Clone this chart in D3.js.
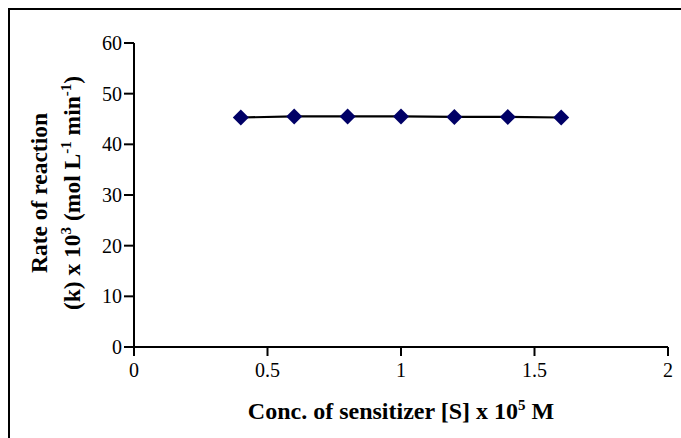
<!DOCTYPE html>
<html><head><meta charset="utf-8">
<script src="https://cdn.jsdelivr.net/npm/d3@7"></script>
<style>body{margin:0;background:#fff}svg{display:block}text{font-family:"Liberation Serif","Times New Roman",serif}</style>
</head><body><svg id="c" width="681" height="438"></svg>
<script>
const xValues = [0.4, 0.6, 0.8, 1.0, 1.2, 1.4, 1.6];
const yValues = [45.3, 45.5, 45.5, 45.5, 45.4, 45.4, 45.3];
const xTicks = [0, 0.5, 1, 1.5, 2];
const yTicks = [0, 10, 20, 30, 40, 50, 60];

const svg = d3.select("#c");
svg.append("rect").attr("x",9).attr("y",9).attr("width",700).attr("height",460)
  .attr("fill","none").attr("stroke","#000").attr("stroke-width",2);

const x = d3.scaleLinear().domain([0,2]).range([134,668]);
const y = d3.scaleLinear().domain([0,60]).range([347,43]);

// x axis
const gx = svg.append("g").attr("transform","translate(0,347)");
gx.append("line").attr("x1",124).attr("x2",668).attr("stroke","#000").attr("stroke-width",2);
gx.selectAll("line.t").data(xTicks).enter().append("line").attr("class","t")
  .attr("x1",d=>x(d)).attr("x2",d=>x(d)).attr("y1",0).attr("y2",9).attr("stroke","#000").attr("stroke-width",2);
gx.selectAll("text").data(xTicks).enter().append("text")
  .attr("x",d=>x(d)).attr("y",30).attr("text-anchor","middle").attr("font-size",20).text(d=>d);

// y axis
const gy = svg.append("g").attr("transform","translate(134,0)");
gy.append("line").attr("y1",y(60)).attr("y2",y(0)+9).attr("stroke","#000").attr("stroke-width",2);
gy.selectAll("line.t").data(yTicks).enter().append("line").attr("class","t")
  .attr("x1",-10).attr("x2",0).attr("y1",d=>y(d)).attr("y2",d=>y(d)).attr("stroke","#000").attr("stroke-width",2);
gy.selectAll("text").data(yTicks).enter().append("text")
  .attr("x",-12).attr("y",d=>y(d)+7).attr("text-anchor","end").attr("font-size",20).text(d=>d);

// line
const line = d3.line().x((d,i)=>x(xValues[i])).y(d=>y(d));
svg.append("path").datum(yValues).attr("d",line).attr("fill","none").attr("stroke","#000").attr("stroke-width",2.2);
svg.selectAll("path.m").data(yValues).enter().append("path").attr("class","m")
  .attr("transform",(d,i)=>`translate(${x(xValues[i])},${y(d)}) rotate(45)`)
  .attr("d",d3.symbol().type(d3.symbolSquare).size(128)).attr("fill","#000066");

// titles
const xt = svg.append("text").attr("x",401).attr("y",419).attr("text-anchor","middle")
  .attr("font-size",24).attr("font-weight","bold");
xt.append("tspan").text("Conc. of sensitizer [S] x 10");
xt.append("tspan").attr("dy",-9).attr("font-size",15).text("5");
xt.append("tspan").attr("dy",9).text(" M");

const yt = svg.append("g").attr("transform","translate(0,193) rotate(-90)");
yt.append("text").attr("x",0).attr("y",47).attr("text-anchor","middle")
  .attr("font-size",23.5).attr("font-weight","bold").text("Rate of reaction");
const t2 = yt.append("text").attr("x",0).attr("y",80).attr("text-anchor","middle")
  .attr("font-size",23.5).attr("font-weight","bold");
t2.append("tspan").text("(k) x 10");
t2.append("tspan").attr("dy",-9).attr("font-size",15).text("3");
t2.append("tspan").attr("dy",9).text(" (mol L");
t2.append("tspan").attr("dy",-9).attr("font-size",15).text("-1");
t2.append("tspan").attr("dy",9).text(" min");
t2.append("tspan").attr("dy",-9).attr("font-size",15).text("-1");
t2.append("tspan").attr("dy",9).text(")");
</script></body></html>
